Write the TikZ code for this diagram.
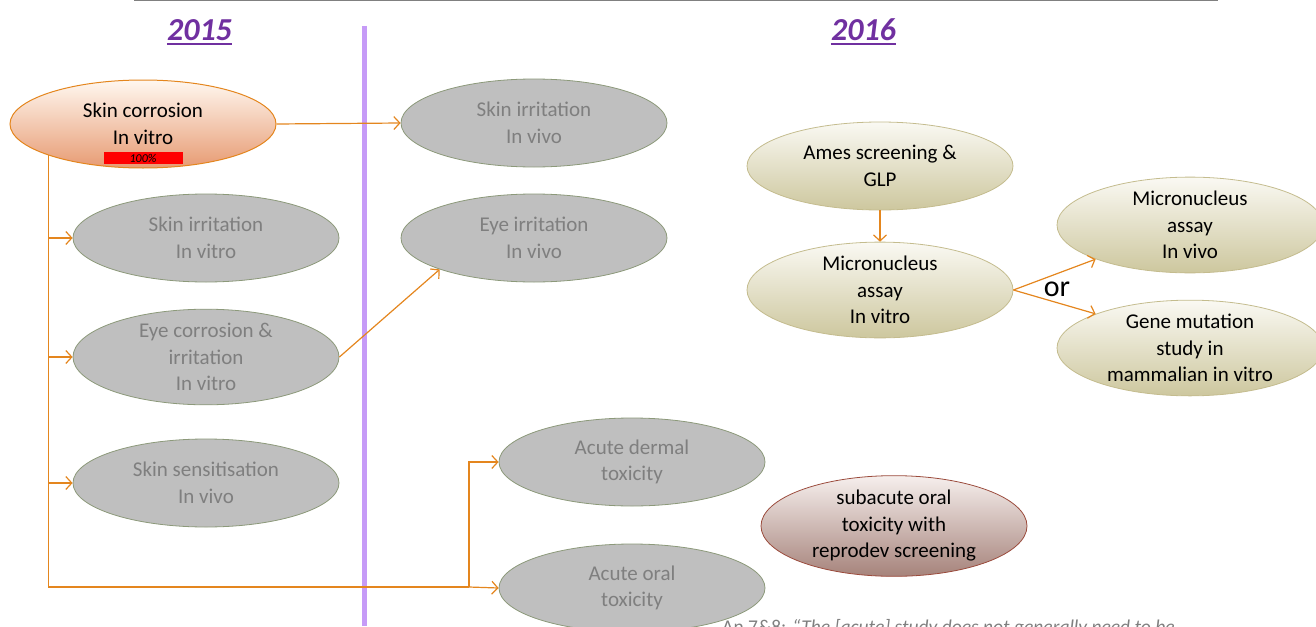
\documentclass[tikz,border=0pt]{standalone}
\usepackage{fontspec}
\setmainfont{Carlito}
\usetikzlibrary{arrows.meta,shapes.geometric}

\definecolor{linkorange}{HTML}{E4861E}
\definecolor{yearviolet}{HTML}{7030A0}
\definecolor{divider}{HTML}{C69BF7}
\definecolor{greyfill}{HTML}{BFBFBF}
\definecolor{greyedge}{HTML}{8C997A}
\definecolor{greytext}{HTML}{7F7F7F}

\begin{document}
\begin{tikzpicture}[x=1pt, y=-1pt,
      >={Straight Barb[length=6pt,width=13pt]},
      flow/.style={->, line width=1.2pt, draw=linkorange},
      link/.style={line width=1.2pt, draw=linkorange},
      test/.style={ellipse, minimum width=266pt, minimum height=88pt,
        inner sep=0pt, align=center, font=\fontsize{21}{26.5}\selectfont},
      done/.style={test, draw=linkorange, line width=1pt,
        top color=orange!6, bottom color={rgb,255:red,231;green,155;blue,115}},
      later/.style={test, draw=greyedge, line width=0.8pt, fill=greyfill,
        text=greytext},
      geno/.style={test, draw={rgb,255:red,196;green,188;blue,142}, line width=0.8pt,
        top color={rgb,255:red,250;green,249;blue,243},
        bottom color={rgb,255:red,205;green,199;blue,158}},
      repro/.style={test, draw={rgb,255:red,155;green,75;blue,60}, line width=0.8pt,
        top color={rgb,255:red,246;green,239;blue,237},
        bottom color={rgb,255:red,166;green,131;blue,123}},
      year/.style={font=\fontsize{32}{32}\selectfont\bfseries\itshape,
        text=yearviolet, inner sep=0pt, anchor=base}
    ]
    \useasboundingbox (0,0) rectangle (1316,626);

    % Header
    \draw[line width=1.5pt, draw=gray] (134,0.5) -- (1218,0.5);
    \node[year] (y15) at (199.5,41) {2015};
    \node[year] (y16) at (863.5,41) {2016};
    \draw[line width=2.5pt, yearviolet] ([yshift=-3pt]y15.base west) -- ([yshift=-3pt]y15.base east);
    \draw[line width=2.5pt, yearviolet] ([yshift=-3pt]y16.base west) -- ([yshift=-3pt]y16.base east);
    \draw[line width=5pt, draw=divider] (364.5,26) -- (364.5,626);

    % 2015
    \node[done] (sc) at (143,124) {Skin corrosion\\In vitro};
    \node[fill=red, minimum width=79pt, minimum height=12pt, inner sep=0pt,
      font=\fontsize{12}{12}\selectfont\itshape] (pct) at (143,158) {100\%};
    \node[later] (sivt) at (206,238) {Skin irritation\\In vitro};
    \node[later] (ecvt) at (206,357) {Eye corrosion \&\\irritation\\In vitro};
    \node[later] (ssvv) at (206,483) {Skin sensitisation\\In vivo};

    % 2016
    \node[later] (sivv) at (534,123) {Skin irritation\\In vivo};
    \node[later] (eivv) at (534,238) {Eye irritation\\In vivo};
    \node[later] (ad) at (632,462) {Acute dermal\\toxicity};
    \node[later] (ao) at (632,588) {Acute oral\\toxicity};
    \node[geno] (ames) at (880,166) {Ames screening \&\\GLP};
    \node[geno] (mnvt) at (880,290) {Micronucleus\\assay\\In vitro};
    \node[geno] (mnvv) at (1190,225) {Micronucleus\\assay\\In vivo};
    \node[geno] (gm) at (1190,348) {Gene mutation\\study in\\mammalian in vitro};
    \node[repro] (sub) at (894,526) {subacute oral\\toxicity with\\reprodev screening};

    % Connectors
    \coordinate (split) at (469,587);
    \draw[flow] (sc.east) -- (sivv.west);
    \draw[link] (sc.south west) |- (split);
    \draw[flow] (split) -- (ao.west);
    \draw[flow] (split) |- (ad.west);
    \draw[flow] (sc.south west |- sivt.west) -- (sivt.west);
    \draw[flow] (sc.south west |- ecvt.west) -- (ecvt.west);
    \draw[flow] (sc.south west |- ssvv.west) -- (ssvv.west);
    \draw[flow] (ecvt.east) -- (eivv.south west);
    \draw[flow] (ames.south) -- (mnvt.north);
    \draw[flow] (mnvt.east) -- (mnvv.south west);
    \draw[flow] (mnvt.east) -- (gm.north west);
    \node[font=\fontsize{30}{30}\selectfont, inner sep=0pt] (or) at (1057,289) {or};

    % Note (cut off)
    \node[anchor=base west, inner sep=0pt, text=greytext,
      font=\fontsize{19.5}{19.5}\selectfont] (note) at (722,633)
      {An 7\&8: \textit{“The [acute] study does not generally need to be}};
  \end{tikzpicture}
\end{document}
